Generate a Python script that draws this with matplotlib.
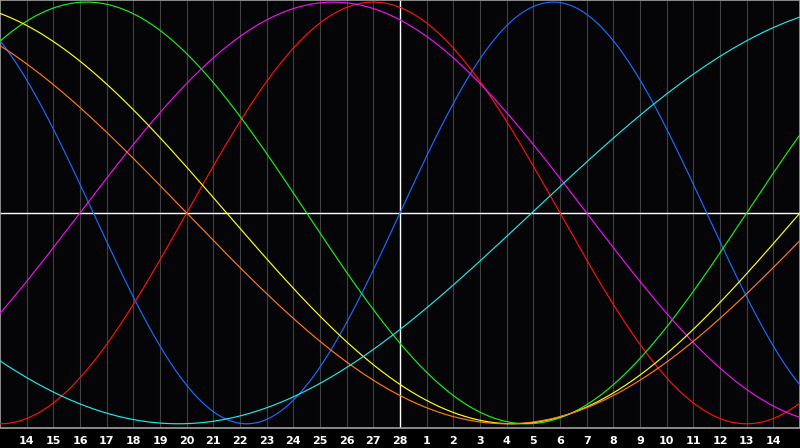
import numpy as np
import matplotlib
matplotlib.use('Agg')
import matplotlib.pyplot as plt

# day labels across the chart (index 0..30), today is in the middle
day_labels = ['13', '14', '15', '16', '17', '18', '19', '20', '21', '22', '23', '24', '25', '26', '27',
              '28', '1', '2', '3', '4', '5', '6', '7', '8', '9', '10', '11', '12', '13', '14', '15']

# cycles: length in days and the day index where the curve crosses zero going up
cycle_names = ['Physical', 'Emotional', 'Intellectual', 'Intuitive', 'Aesthetic', 'Awareness', 'Spiritual']
cycle_days = [23, 28, 33, 38, 43, 48, 53]
zero_up = [15.0, 7.0, 28.0, 3.0, 30.0, 31.0, 19.94]
cycle_colors = ['#1a6cff', '#ff1010', '#18f018', '#f010f0', '#ffff10', '#ff7a10', '#20e8e8']

today = 15

fig = plt.figure(figsize=(8, 4.48), dpi=100)
fig.patch.set_facecolor('black')
ax = fig.add_axes([0, 20 / 448, 1, 428 / 448])
ax.set_facecolor('#050508')

t = np.linspace(0, len(day_labels) - 1, 1200)

# grid lines for every day
for i in range(1, len(day_labels) - 1):
    if i != today:
        ax.axvline(i, color='#404040', lw=0.8, zorder=1)

for name, days, z, col in zip(cycle_names, cycle_days, zero_up, cycle_colors):
    ax.plot(t, np.sin(2 * np.pi * (t - z) / days), color=col, lw=0.85, label=name, zorder=3)

# cross hair for today
ax.axvline(today, color='white', lw=1.0, zorder=2)
ax.axhline(0, color='white', lw=1.0, zorder=2)

ax.set_xlim(0, len(day_labels) - 1)
ax.set_ylim(-1.02, 1.01)
ax.set_yticks([])
ax.set_xticks(range(1, len(day_labels) - 1))
ax.set_xticklabels(day_labels[1:-1], color='white', fontsize=8, fontweight='bold')
ax.tick_params(axis='x', length=0, pad=5.5)

for s in ax.spines.values():
    s.set_color('#a0a0a0')
    s.set_linewidth(1.2)

fig.savefig('out.png', dpi=100, facecolor='black')
